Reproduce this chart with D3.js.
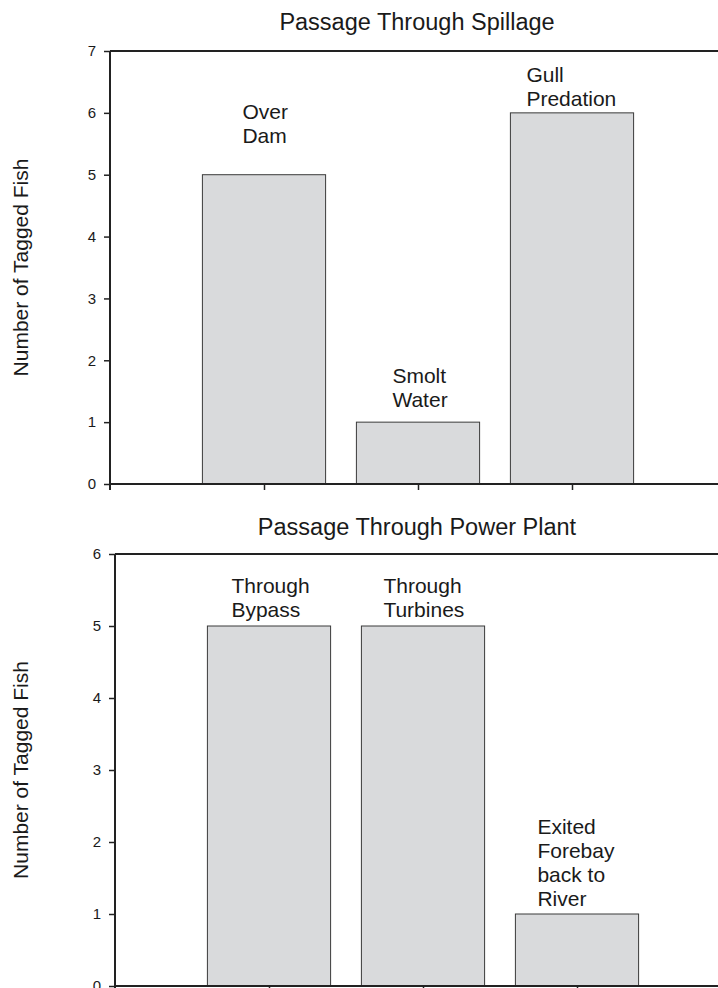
<!DOCTYPE html>
<html>
<head>
<meta charset="utf-8">
<script src="https://cdn.jsdelivr.net/npm/d3@7"></script>
<style>
  body { margin: 0; background: #fff; }
  svg { display: block; font-family: "Liberation Sans", Arial, sans-serif; }
  text { fill: #1a1a1a; }
</style>
</head>
<body>
<svg id="svg1" width="718" height="988"></svg>
<script>
// data
var spillCategories = ["Over Dam", "Smolt Water", "Gull Predation"];
var spillValues = [5, 1, 6];
var spillLabels = [["Over", "Dam"], ["Smolt", "Water"], ["Gull", "Predation"]];
var spillTicks = [0, 1, 2, 3, 4, 5, 6, 7];

var powerCategories = ["Through Bypass", "Through Turbines", "Exited Forebay back to River"];
var powerValues = [5, 5, 1];
var powerLabels = [["Through", "Bypass"], ["Through", "Turbines"], ["Exited", "Forebay", "back to", "River"]];
var powerTicks = [0, 1, 2, 3, 4, 5, 6];

var yTitle = "Number of Tagged Fish";

var svg = d3.select('svg');

function drawPanel(p) {
  var g = svg.append('g');

  var x = d3.scaleLinear().domain([0, 4]).range([p.left, p.left + 616]);
  var y = d3.scaleLinear().domain([0, p.max]).range([p.bottom, p.top]);

  // title
  g.append('text')
   .attr('x', 417).attr('y', p.titleY)
   .attr('text-anchor', 'middle')
   .style('font-size', '23.5px')
   .text(p.title);

  // y axis title
  g.append('text')
   .attr('transform', 'translate(' + (p.ytX) + ',' + ((p.top + p.bottom) / 2) + ') rotate(-90)')
   .attr('text-anchor', 'middle')
   .style('font-size', '21px')
   .text(yTitle);

  // bars
  g.selectAll('rect.bar')
   .data(p.values)
   .enter()
   .append('rect')
   .attr('class', 'bar')
   .attr('x', function(d, i) { return x(i + 1 - 0.4); })
   .attr('width', x(0.8) - x(0))
   .attr('y', function(d) { return y(d); })
   .attr('height', function(d) { return y(0) - y(d); })
   .attr('fill', '#d9dadc')
   .attr('stroke', '#3a3a3a')
   .attr('stroke-width', 1);

  // bar labels
  p.labels.forEach(function(lines, i) {
    var n = lines.length;
    var base = y(p.values[i]) - p.gap[i];
    var t = g.append('text')
             .attr('x', x(i + 1 - 0.4) + p.dx[i])
             .attr('text-anchor', 'start')
             .style('font-size', '21px');
    lines.forEach(function(l, j) {
      t.append('tspan')
       .attr('x', x(i + 1 - 0.4) + p.dx[i])
       .attr('y', base - (n - 1 - j) * 24)
       .text(l);
    });
  });

  // y axis
  var yAxis = d3.axisLeft(y).tickValues(p.ticks).tickSize(6).tickPadding(8).tickFormat(d3.format('d'));
  var ya = g.append('g').attr('transform', 'translate(' + p.left + ',0)').call(yAxis);
  ya.attr('font-size', null).attr('font-family', null);
  ya.select('.domain').remove();
  ya.selectAll('.tick line').attr('stroke', '#222').attr('stroke-width', 1.5);
  ya.selectAll('.tick text')
    .attr('font-size', 15)
    .style('font-size', '15px')
    .attr('fill', '#1a1a1a');

  // x axis with ticks at category centres
  var xAxis = d3.axisBottom(x).tickValues([1, 2, 3]).tickSize(6).tickFormat('');
  var xa = g.append('g').attr('transform', 'translate(0,' + y(0) + ')').call(xAxis);
  xa.select('.domain').remove();
  xa.selectAll('.tick line').attr('stroke', '#222').attr('stroke-width', 1.5);

  // frame lines
  g.append('line')
   .attr('x1', p.left).attr('x2', 718)
   .attr('y1', y(0)).attr('y2', y(0))
   .attr('stroke', '#222').attr('stroke-width', 2);
  g.append('line')
   .attr('x1', p.left).attr('x2', 718)
   .attr('y1', y(p.max)).attr('y2', y(p.max))
   .attr('stroke', '#222').attr('stroke-width', 2);
  g.append('line')
   .attr('x1', p.left).attr('x2', p.left)
   .attr('y1', y(p.max)).attr('y2', y(0) + 6)
   .attr('stroke', '#222').attr('stroke-width', 2);
}

drawPanel({
  title: "Passage Through Spillage",
  titleY: 30,
  values: spillValues,
  labels: spillLabels,
  ticks: spillTicks,
  max: 7,
  left: 110, top: 51, bottom: 484,
  ytX: 28,
  dx: [40, 36, 16],
  gap: [32, 15, 7]
});

drawPanel({
  title: "Passage Through Power Plant",
  titleY: 535,
  values: powerValues,
  labels: powerLabels,
  ticks: powerTicks,
  max: 6,
  left: 115, top: 554, bottom: 986,
  ytX: 28,
  dx: [24, 22, 22],
  gap: [9, 9, 8]
});
</script>
</body>
</html>
